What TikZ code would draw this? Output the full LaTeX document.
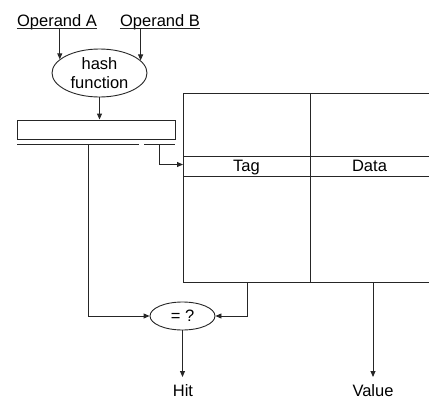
\documentclass[tikz,border=0pt]{standalone}
\usepackage{fontspec}
\setmainfont{Liberation Sans}
\usetikzlibrary{shapes.geometric,arrows.meta}
\begin{document}
\begin{tikzpicture}[x=1pt,y=-1pt,
  lbl/.style={font=\fontsize{16.5}{19}\selectfont, inner sep=0pt},
  ln/.style={line width=0.9pt, draw=black!85},
  arr/.style={ln, -{Triangle[length=6pt,width=5pt]}},
  oval/.style={ln, ellipse, draw, inner sep=0pt, align=center, font=\fontsize{16.5}{19}\selectfont}]
\useasboundingbox (0,0) rectangle (429,399);
% operands
\node[lbl, anchor=base] (opA) at (57,26.5) {Operand A};
\node[lbl, anchor=base] (opB) at (160,26.5) {Operand B};
\draw[ln] ([yshift=-2pt]opA.base west) -- ([yshift=-2pt]opA.base east);
\draw[ln] ([yshift=-2pt]opB.base west) -- ([yshift=-2pt]opB.base east);
% hash
\node[oval, minimum width=95pt, minimum height=48pt] (hash) at (99.5,73) {hash\\function};
\draw[arr] ([yshift=-2pt]opA.base -| hash.161) -- (hash.161);
\draw[arr] ([yshift=-2pt]opB.base -| hash.17) -- (hash.17);
% register
\node[ln, draw, rectangle, minimum width=158pt, minimum height=19pt, inner sep=0pt] (reg) at (96,129.5) {};
\draw[arr] (hash.south) -- (hash.south |- reg.north);
\draw[ln] (17,144) -- (139,144);
\draw[ln] (144,144) -- (175,144);
\coordinate (idx) at (88,144);
\coordinate (tg) at (159,144);
% table
\draw[ln] (429,93) -- (183,93) -- (183,282) -- (429,282);
\draw[ln] (310,93) -- (310,282);
\draw[ln] (183,156) -- (429,156);
\draw[ln] (183,176) -- (429,176);
\coordinate (row) at (183,164.5);
\node[lbl, anchor=base] (tag) at (246.5,171.5) {Tag};
\node[lbl, anchor=base] (data) at (369.5,171.5) {Data};
\draw[arr] (tg) |- (row);
% compare
\node[oval, minimum width=65pt, minimum height=28pt] (eq) at (182.5,316) {= ?};
\coordinate (tb) at (247,282);
\coordinate (vb) at (373,282);
\draw[arr] (idx) |- (eq.west);
\draw[arr] (tb) |- (eq.east);
% outputs
\node[lbl, anchor=base] (hit) at (183,396.5) {Hit};
\node[lbl, anchor=base] (value) at (373,396.5) {Value};
\draw[arr] (eq.south) -- (eq.south |- 0,377);
\draw[arr] (vb) -- (vb |- 0,377);
\end{tikzpicture}
\end{document}
